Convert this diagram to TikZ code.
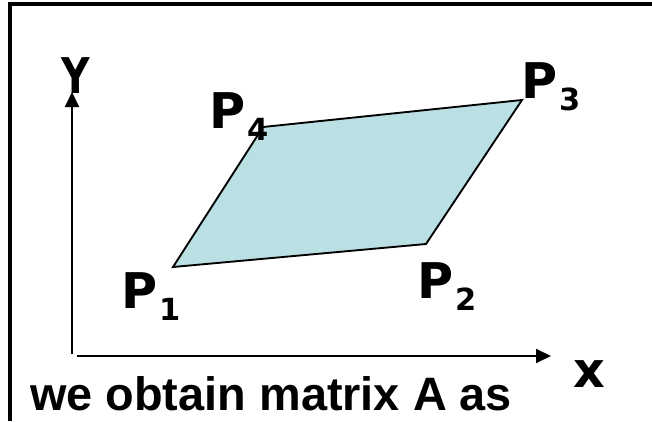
\documentclass[tikz,border=0pt]{standalone}
\usepackage{fontspec}
\setmainfont{Liberation Sans}
\newfontfamily\labelfont{DejaVu Sans}
\usetikzlibrary{arrows.meta}
\definecolor{fillblue}{RGB}{187,224,227}
\tikzset{
  lbl/.style={font=\labelfont\bfseries\fontsize{42}{42}\selectfont, inner sep=0pt, anchor=base west},
  axis/.style={line width=1.6pt, -{Triangle[length=0.45cm,width=0.42cm]}},
}
\newcommand{\plabel}[1]{P\kern1.5pt\raisebox{-0.36cm}{\fontsize{26}{26}\selectfont #1}}
\begin{document}
\begin{tikzpicture}[x=0.03cm,y=-0.03cm]
        \useasboundingbox (0,0) rectangle (652,421);
        \draw[line width=2.6pt] (10,421) -- (10,4) -- (652,4);

        \coordinate (p1) at (173,267);
        \coordinate (p2) at (426,244);
        \coordinate (p3) at (522,100);
        \coordinate (p4) at (263,127);
        \filldraw[fill=fillblue, line width=1.6pt] (p1) -- (p2) -- (p3) -- (p4) -- cycle;

        \coordinate (ybot) at (72,354);
        \coordinate (ytop) at (72,92);
        \coordinate (xleft) at (77,356);
        \coordinate (xright) at (551,356);
        \draw[axis] (ybot) -- (ytop);
        \draw[axis] (xleft) -- (xright);

        \node[lbl] (l1) at (121,308) {\plabel{1}};
        \node[lbl] (l2) at (417,298) {\plabel{2}};
        \node[lbl] (l3) at (521,98) {\plabel{3}};
        \node[lbl] (l4) at (209,128) {\plabel{4}};
        \node[lbl, anchor=base, xscale=0.8] (ylab) at (76,93) {Y};
        \node[lbl, anchor=base] (xlab) at (589,387) {x};
        \node[font=\bfseries\fontsize{40}{40}\selectfont, inner sep=0pt, anchor=base west] (caption) at (30,410) {we obtain matrix A as};
    \end{tikzpicture}
\end{document}
